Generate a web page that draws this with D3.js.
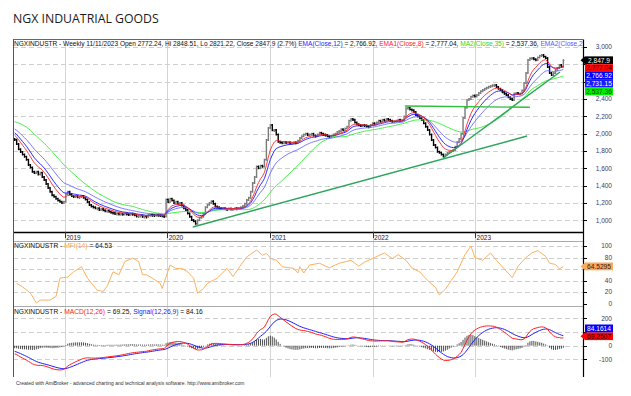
<!DOCTYPE html>
<html><head><meta charset="utf-8">
<script src="https://cdn.jsdelivr.net/npm/d3@7"></script>
<style>body{margin:0;background:#fff}svg{display:block}text{font-family:"Liberation Sans",Arial,sans-serif}</style>
</head><body>
<svg id="c" width="631" height="396"></svg>
<script>
// ---------- DATA ----------
const title = "NGX INDUATRIAL GOODS";
const ticker = "NGXINDUSTR";
const lastDate = "2023-11-11";
// weekly closes before the visible window (used only to seed the averages)
const warmupCloses = [2080,2100,2120,2150,2130,2160,2200,2250,2300,2340,2320,2280,2300,2260,2240,2200,2230,2190,2170,2150,2180,2150,2120,2100,2120,2090,2060,2080,2040,2020,2000,1990,1970,1960,1940];
// visible weekly closes, Jul 2018 .. 11 Nov 2023
const closes = [
1930,1880,1820,1790,1760,1735,1700,1640,1610,1560,
1545,1560,1530,1550,1500,1465,1420,1373,1330,1290,
1273,1250,1230,1215,1200,1215,1300,1330,1300,1280,
1273,1280,1265,1270,1280,1260,1240,1210,1177,1160,
1150,1139,1140,1120,1130,1115,1105,1111,1100,1090,
1085,1073,1080,1070,1075,1068,1080,1072,1065,1075,
1070,1060,1045,1050,1055,1040,1045,1042,1060,1065,
1061,1055,1065,1060,1058,1050,1045,1240,1210,1250,
1230,1200,1215,1190,1200,1170,1140,1119,1080,1040,
1003,990,960,1000,1030,1042,1080,1150,1180,1200,
1220,1190,1160,1150,1142,1135,1140,1130,1128,1135,
1130,1132,1140,1138,1142,1150,1165,1190,1234,1260,
1330,1430,1500,1620,1600,1630,1620,1700,1927,2066,
2100,2040,2043,1990,1907,1900,1890,1905,1896,1900,
1890,1895,1900,1896,1920,1950,1970,1990,2000,1985,
1990,2000,1980,1975,1990,2010,2000,1990,1985,1970,
1960,1975,1990,2000,2020,2030,2050,2040,2060,2080,
2150,2170,2160,2130,2110,2100,2090,2100,2095,2085,
2080,2100,2120,2110,2130,2150,2140,2160,2150,2170,
2160,2150,2140,2145,2150,2160,2155,2157,2200,2295,
2300,2280,2272,2250,2215,2200,2180,2157,2120,2080,
2042,1990,1927,1870,1840,1792,1780,1760,1740,1760,
1777,1790,1800,1812,1850,1900,1940,2000,2181,2300,
2388,2400,2427,2440,2430,2446,2470,2490,2504,2520,
2530,2543,2550,2560,2562,2540,2520,2504,2480,2460,
2446,2420,2400,2388,2465,2470,2460,2465,2500,2585,
2700,2850,2870,2873,2860,2850,2880,2900,2908,2890,
2873,2770,2700,2677,2700,2735,2760,2793,2772,2847.9];
// MFI(14) read at sampled weeks (index into closes)
const mfiIdx = [1,4,8,11,13,18,21,23,27,30,34,37,42,45,47,50,53,56,60,63,65,67,70,74,75,79,82,85,88,91,93,96,98,103,108,111,115,118,123,126,128,131,133,136,142,144,145,147,150,155,160,165,171,175,178,183,188,192,195,199,202,206,210,214,216,219,222,225,229,232,234,238,242,245,249,253,256,260,263,266,270,272,275,277,279];
const mfiVal = [35,29,18,1,6,6,12,44,46,55,64,44,23,21,30,55,50,73,79,73,50,50,44,35,26,67,61,61,55,44,18,26,35,44,61,47,67,81,93,84,87,76,76,64,61,53,64,53,67,70,62,70,75,65,72,80,88,78,85,75,62,55,40,28,15,25,40,55,85,100,80,75,88,75,60,45,65,80,88,92,82,70,68,60,64.53];
// header / last values
const lastBar = {open:2772.24, hi:2848.51, lo:2821.22, close:2847.9, pct:2.7};
const priceLast = [2847.9, 2777.04, 2766.92, 2731.15, 2537.36];
const mfiLast = 64.5295;
const macdLast = [69.2507, 84.1614];
// ticks
const priceTicks = [1000,1200,1400,1600,1800,2000,2200,2400,2600,2800,3000];
const priceTickLabels = ["1,000","1,200","1,400","1,600","1,800","2,000","2,200","2,400","2,600","2,800","3,000"];
const mfiTicks = [0,20,40,60,80,100];
const macdTicks = [-100,0,100,200];
const yearLabels = ["2019","2020","2021","2022","2023"];
// hand-drawn trend lines [date, price]
const trendLines = [
  [["2020-04-01",923],["2023-07-05",1973]],
  [["2022-09-09",1719],["2023-10-30",2713]],
  [["2022-04-26",2320],["2023-07-15",2305]]
];
const footer = "Created with AmiBroker - advanced charting and technical analysis software. http://www.amibroker.com";

// ---------- LAYOUT ----------
const L = 13, R = 583;
const P = {top:39.5, bot:232};
const M = {top:241, bot:306};
const D = {top:306, bot:377};
const svg = d3.select("#c");
const parse = d3.utcParse("%Y-%m-%d");
const last = parse(lastDate);
const N = closes.length;
const dates = closes.map((_, i) => d3.utcDay.offset(last, -7 * (N - 1 - i)));
const x = d3.scaleUtc().domain([parse("2018-07-01"), parse("2024-01-20")]).range([L, R]);
const yP = d3.scaleLinear().domain([865, 3082]).range([P.bot, P.top + 0.5]);
const yM = d3.scaleLinear().domain([0, 100]).range([303.5, 246]);
const yD = d3.scaleLinear().domain([0, 200]).range([345.7, 318.3]);

// indicators
const all = warmupCloses.concat(closes);
const W = warmupCloses.length;
function ema(a, n){ const k = 2/(n+1); let e = a[0]; return a.map((v,i)=> (e = i===0 ? v : v*k + e*(1-k))); }
function sma(a, n){ return a.map((v,i)=> i < n-1 ? null : d3.mean(a.slice(i-n+1, i+1))); }
const e8 = ema(all, 8).slice(W), e12 = ema(all, 12).slice(W), e21 = ema(all, 21).slice(W), m35 = sma(all, 35).slice(W);
const e26all = ema(all,26);
const macdAll = ema(all,12).map((v,i)=> v - e26all[i]);
const sigAll = ema(macdAll, 9);
const macd = macdAll.slice(W), sig = sigAll.slice(W);

// clip paths
const defs = svg.append("defs");
[["cp",P.top,P.bot],["cm",M.top,M.bot],["cd",D.top,D.bot]].forEach(([id,t,b])=>{
  defs.append("clipPath").attr("id",id).append("rect").attr("x",L).attr("y",t).attr("width",R-L).attr("height",b-t);
});

// title
svg.append("text").attr("x",13).attr("y",23.3).attr("font-size",12.3).attr("fill","#1a1a1a")
  .style("font-family","'Open Sans',sans-serif").text(title);

// vertical year grid
const yearDates = yearLabels.map(y => parse(y + "-01-01"));
svg.append("g").selectAll("line").data(yearDates).join("line")
  .attr("x1",d=>Math.round(x(d))+0.5).attr("x2",d=>Math.round(x(d))+0.5)
  .attr("y1",P.top).attr("y2",D.bot).attr("stroke","#d4d4d4").attr("stroke-width",1);

// horizontal dashed grids
function hgrid(ticks, sc){
  svg.append("g").selectAll("line").data(ticks).join("line")
    .attr("x1",L).attr("x2",R).attr("y1",d=>Math.round(sc(d))+0.5).attr("y2",d=>Math.round(sc(d))+0.5)
    .attr("stroke","#cfcfcf").attr("stroke-dasharray","5,3");
}
hgrid(priceTicks.filter(t=>yP(t)>P.top+3), yP);
hgrid(mfiTicks.filter(t=>t>0), yM);
hgrid(macdTicks, yD);

// ---------- PRICE PANEL ----------
const gp = svg.append("g").attr("clip-path","url(#cp)");
const opens = closes.map((c,i)=> i===0 ? warmupCloses[W-1] : closes[i-1]);
const bars = gp.append("g");
closes.forEach((c,i)=>{
  const o = opens[i], xx = x(dates[i]);
  const up = c >= o;
  const col = up ? "#7a7a7a" : "#000";
  const y1 = yP(Math.max(o,c)), y2 = yP(Math.min(o,c));
  bars.append("line").attr("x1",xx).attr("x2",xx).attr("y1",y1-1).attr("y2",Math.max(y2+1,y1+2)).attr("stroke",col).attr("stroke-width",1.4);
  bars.append("line").attr("x1",xx-1.2).attr("x2",xx).attr("y1",yP(o)).attr("y2",yP(o)).attr("stroke",col).attr("stroke-width",1);
  bars.append("line").attr("x1",xx).attr("x2",xx+1.2).attr("y1",yP(c)).attr("y2",yP(c)).attr("stroke",col).attr("stroke-width",1);
});
function lineOf(vals, sc){
  const ln = d3.line().defined(d=>d[1]!=null).x(d=>x(d[0])).y(d=>sc(d[1]));
  return ln(vals.map((v,i)=>[dates[i], v]));
}
[[m35,"#33ee33"],[e21,"#6a6aff"],[e12,"#1515ff"],[e8,"#ff2a2a"]].forEach(([v,c])=>{
  gp.append("path").attr("d",lineOf(v,yP)).attr("fill","none").attr("stroke",c).attr("stroke-width",0.9);
});
trendLines.forEach((t,k)=>{
  gp.append("line").attr("x1",x(parse(t[0][0]))).attr("y1",yP(t[0][1]))
    .attr("x2",x(parse(t[1][0]))).attr("y2",yP(t[1][1]))
    .attr("stroke", k===2 ? "#2fbf3a" : "#2aa55a").attr("stroke-width",1.4);
});
// header (the last label is cut by the axis, as in the original)
const fmt2 = d3.format(",.2f");
const hdr = svg.append("text").attr("x",14).attr("y",45.5).attr("font-size",6.7).attr("fill","#111");
hdr.append("tspan").text(`${ticker} - Weekly ${d3.utcFormat("%m/%d/%Y")(last)} Open ${lastBar.open}, Hi ${lastBar.hi}, Lo ${lastBar.lo}, Close ${lastBar.close} (${lastBar.pct}%) `);
hdr.append("tspan").attr("fill","#2222ff").text("EMA(Close,12)");
hdr.append("tspan").text(` = ${fmt2(priceLast[2])}, `);
hdr.append("tspan").attr("fill","#ff2020").text("EMA1(Close,8)");
hdr.append("tspan").text(` = ${fmt2(priceLast[1])}, `);
hdr.append("tspan").attr("fill","#22dd22").text("MA2(Close,35)");
hdr.append("tspan").text(` = ${fmt2(priceLast[4])}, `);
hdr.append("tspan").attr("fill","#5555ff").text("EMA2(Close,2");
{
  const len = hdr.node().getComputedTextLength();
  hdr.attr("font-size", 6.7 * (R - 1 - 14) / len);
}

// ---------- MFI PANEL ----------
const gm = svg.append("g").attr("clip-path","url(#cm)");
gm.append("path").attr("d", d3.line().x(d=>x(dates[d[0]])).y(d=>yM(d[1]))(mfiIdx.map((k,i)=>[k,mfiVal[i]])))
  .attr("fill","none").attr("stroke","#ffb060").attr("stroke-width",1);
const mh = gm.append("text").attr("x",14).attr("y",247.5).attr("font-size",6.7).attr("fill","#111");
mh.append("tspan").text(`${ticker} - `);
mh.append("tspan").attr("fill","#ffa040").text("MFI(14)");
mh.append("tspan").text(` = ${d3.format(".2f")(mfiLast)}`);

// ---------- MACD PANEL ----------
const gd = svg.append("g").attr("clip-path","url(#cd)");
gd.append("g").selectAll("line").data(macd.map((v,i)=>[dates[i], v - sig[i]])).join("line")
  .attr("x1",d=>x(d[0])).attr("x2",d=>x(d[0])).attr("y1",yD(0)).attr("y2",d=>yD(d[1]))
  .attr("stroke","#222").attr("stroke-width",0.8);
gd.append("path").attr("d",lineOf(sig,yD)).attr("fill","none").attr("stroke","#2020ff").attr("stroke-width",1);
gd.append("path").attr("d",lineOf(macd,yD)).attr("fill","none").attr("stroke","#ff2020").attr("stroke-width",1);
const dh = gd.append("text").attr("x",14).attr("y",313.5).attr("font-size",6.7).attr("fill","#111");
dh.append("tspan").text(`${ticker} - `);
dh.append("tspan").attr("fill","#ff2020").text("MACD(12,26)");
dh.append("tspan").text(` = ${d3.format(".2f")(macdLast[0])}, `);
dh.append("tspan").attr("fill","#2020ff").text("Signal(12,26,9)");
dh.append("tspan").text(` = ${d3.format(".2f")(macdLast[1])}`);

// ---------- FRAME / AXES ----------
svg.append("line").attr("x1",L).attr("x2",R).attr("y1",P.top).attr("y2",P.top).attr("stroke","#666");
svg.append("line").attr("x1",L).attr("x2",R).attr("y1",P.bot+0.5).attr("y2",P.bot+0.5).attr("stroke","#000").attr("stroke-width",1.3);
svg.append("line").attr("x1",L).attr("x2",R).attr("y1",M.top+0.5).attr("y2",M.top+0.5).attr("stroke","#aaa");
svg.append("line").attr("x1",L).attr("x2",R).attr("y1",D.top+0.5).attr("y2",D.top+0.5).attr("stroke","#aaa");
svg.append("line").attr("x1",L+0.5).attr("x2",L+0.5).attr("y1",P.top).attr("y2",D.bot).attr("stroke","#555");
svg.append("line").attr("x1",R+0.5).attr("x2",R+0.5).attr("y1",P.top).attr("y2",D.bot).attr("stroke","#000").attr("stroke-width",1.2);
// year ticks + labels
svg.append("g").selectAll("line").data(yearDates).join("line")
  .attr("x1",d=>Math.round(x(d))+0.5).attr("x2",d=>Math.round(x(d))+0.5).attr("y1",P.bot).attr("y2",P.bot+6).attr("stroke","#333");
svg.append("g").selectAll("text").data(yearLabels).join("text")
  .attr("x",(d,i)=>x(yearDates[i])+1.5).attr("y",239.5).attr("font-size",6.5).attr("fill","#222").text(d=>d);
// right axes
function raxis(ticks, labels, sc, hide){
  const g = svg.append("g");
  ticks.forEach((t,i)=>{
    const yy = sc(t);
    g.append("line").attr("x1",R).attr("x2",R+4).attr("y1",Math.round(yy)+0.5).attr("y2",Math.round(yy)+0.5).attr("stroke","#000");
    if(!hide.includes(t)) g.append("text").attr("x",612).attr("y",yy).attr("dy","0.35em").attr("text-anchor","end")
      .attr("font-size",6.5).attr("fill","#3a3a66").text(labels[i]);
  });
}
raxis(priceTicks, priceTickLabels, yP, [2600,2800]);
raxis(mfiTicks, mfiTicks.map(String), yM, [60]);
raxis(macdTicks, macdTicks.map(String), yD, [100]);

// ---------- VALUE BADGES ----------
const BH = 7.8;
function badge(yc, txt, fill, tcol, arrow){
  const x0 = 585, w = 28;
  if(arrow) svg.append("path").attr("d",`M${x0-4.5},${yc}L${x0},${yc-BH/2}L${x0},${yc+BH/2}Z`).attr("fill",fill);
  svg.append("rect").attr("x",x0).attr("y",yc-BH/2).attr("width",w).attr("height",BH).attr("fill",fill);
  svg.append("text").attr("x",x0+w/2).attr("y",yc).attr("dy","0.36em").attr("text-anchor","middle")
    .attr("font-size",6.6).attr("fill",tcol).text(txt);
}
function stackBadges(items, sc){
  const y0 = sc(items[0].v);
  const pos = [{...items[0], y:y0}];
  let prev = y0;
  items.slice(1).filter(d=>d.v<=items[0].v).sort((a,b)=>b.v-a.v).forEach(d=>{ prev = Math.max(sc(d.v), prev+BH); pos.push({...d,y:prev}); });
  prev = y0;
  items.slice(1).filter(d=>d.v>items[0].v).sort((a,b)=>a.v-b.v).forEach(d=>{ prev = Math.min(sc(d.v), prev-BH); pos.push({...d,y:prev}); });
  pos.forEach((d,i)=>badge(d.y, d.t, d.fill, d.tc, i===0));
}
const fmtC = d3.format(",");
stackBadges([
  {v:priceLast[0], t:fmtC(priceLast[0]), fill:"#000", tc:"#fff"},
  {v:priceLast[1], t:fmt2(priceLast[1]), fill:"#ff0000", tc:"#300"},
  {v:priceLast[2], t:fmt2(priceLast[2]), fill:"#0000ff", tc:"#fff"},
  {v:priceLast[3], t:fmt2(priceLast[3]), fill:"#1a1aff", tc:"#fff"},
  {v:priceLast[4], t:fmt2(priceLast[4]), fill:"#00ee00", tc:"#030"}
], yP);
stackBadges([{v:mfiLast, t:String(mfiLast), fill:"#ffa858", tc:"#222"}], yM);
stackBadges([
  {v:macdLast[0], t:String(macdLast[0]), fill:"#ff0000", tc:"#300"},
  {v:macdLast[1], t:String(macdLast[1]), fill:"#0000ff", tc:"#fff"}
], yD);

// footer
svg.append("text").attr("x",16).attr("y",385).attr("font-size",5).attr("fill","#333").text(footer);
</script>
</body></html>
